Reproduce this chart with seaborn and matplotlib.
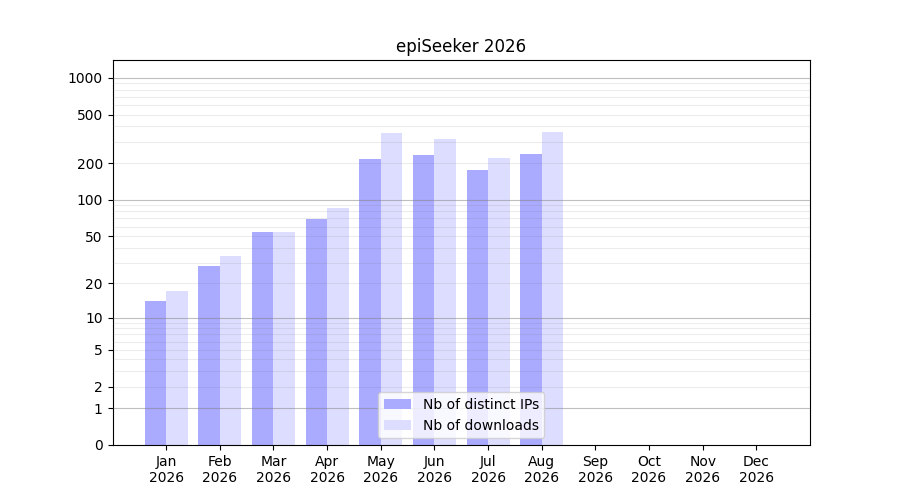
import numpy as np
import pandas as pd
import matplotlib
matplotlib.use("Agg")
import matplotlib.pyplot as plt
import seaborn as sns

# Monthly stats
months = ["Jan", "Feb", "Mar", "Apr", "May", "Jun", "Jul", "Aug", "Sep", "Oct", "Nov", "Dec"]
year = 2026
distinct_ips = [14, 28, 54, 69, 218, 235, 177, 240, 0, 0, 0, 0]
downloads = [17, 34, 54, 86, 356, 318, 222, 363, 0, 0, 0, 0]

yticks = [0, 1, 2, 5, 10, 20, 50, 100, 200, 500, 1000]
minor_yticks = [3, 4, 6, 7, 8, 9, 30, 40, 60, 70, 80, 90, 300, 400, 600, 700, 800, 900]
decades = [1, 10, 100, 1000]

df = pd.DataFrame(
    {
        "month": months * 2,
        "count": distinct_ips + downloads,
        "series": ["Nb of distinct IPs"] * 12 + ["Nb of downloads"] * 12,
    }
)

fig, ax = plt.subplots(figsize=(9, 5), dpi=100)

# log(1 + y) scale so that zero is visible
ax.set_yscale("function", functions=(lambda y: np.log10(np.maximum(y, 0) + 1), lambda y: 10**y - 1))

sns.barplot(
    data=df,
    x="month",
    y="count",
    hue="series",
    order=months,
    palette=["#aaaaff", "#ddddff"],
    saturation=1,
    width=0.8,
    errorbar=None,
    ax=ax,
)

ax.set_ylim(0, 1400)
ax.set_xlim(-1, 12)
ax.set_yticks(yticks)
ax.set_yticklabels([str(t) for t in yticks])
ax.set_yticks(minor_yticks, minor=True)
ax.tick_params(axis="y", which="minor", length=0)
ax.set_xticks(range(12))
ax.set_xticklabels([f"{m}\n{year}" for m in months])

# grid on top of the bars: darker on decades, light elsewhere
ax.set_axisbelow(False)
ax.yaxis.grid(True, which="major", linewidth=0.8)
ax.yaxis.grid(True, which="minor", color="0.5", alpha=0.15, linewidth=0.8)
for line, val in zip(ax.get_ygridlines(), yticks):
    if val in decades:
        line.set_color("0.5")
        line.set_alpha(0.5)
    elif val == 0:
        line.set_visible(False)
    else:
        line.set_color("0.5")
        line.set_alpha(0.15)

ax.set_xlabel("")
ax.set_ylabel("")
ax.set_title(f"epiSeeker {year}")

handles, labels = ax.get_legend_handles_labels()
ax.legend(handles, labels, loc="lower center")

fig.savefig("out.png", dpi=100)
